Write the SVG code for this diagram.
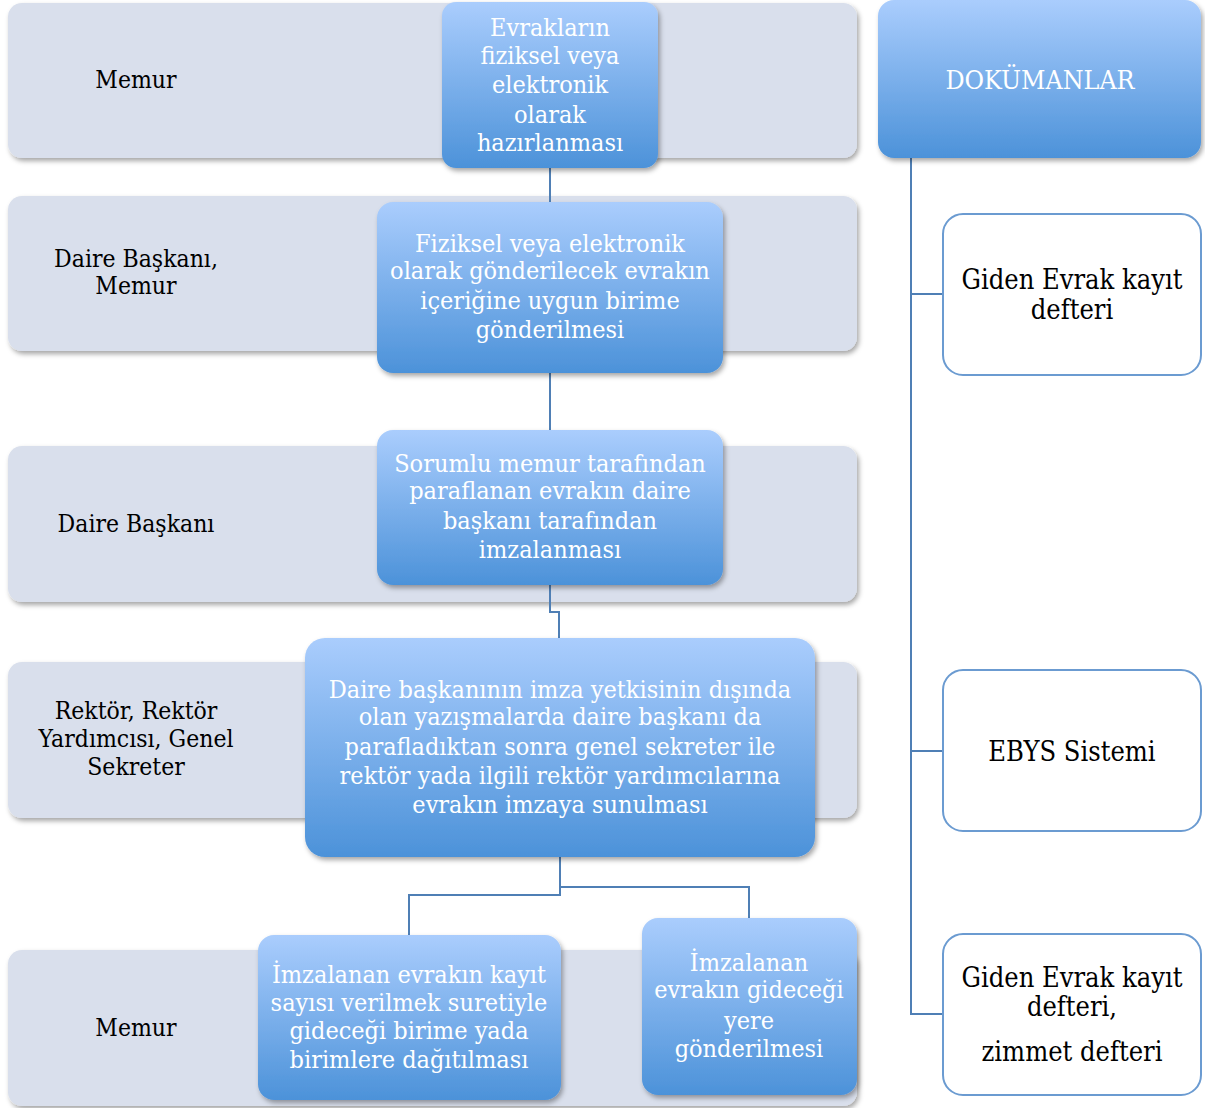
<svg xmlns="http://www.w3.org/2000/svg" width="1205" height="1108" viewBox="0 0 1205 1108">
<defs>
<linearGradient id="blue" x1="0" y1="0" x2="0" y2="1">
<stop offset="0" stop-color="#aacdfd"/>
<stop offset="1" stop-color="#4c92d9"/>
</linearGradient>
<filter id="sh" x="-10%" y="-10%" width="120%" height="130%">
<feDropShadow dx="2" dy="3" stdDeviation="2.5" flood-color="#000" flood-opacity="0.35"/>
</filter>
<style>
.lane{fill:#d9dfec;filter:url(#sh)}
.bx{fill:url(#blue);filter:url(#sh)}
.wb{fill:#fff;stroke:#6b9bd1;stroke-width:2}
.wt{fill:#fff;font-family:"DejaVu Serif Condensed","DejaVu Serif","Liberation Serif",serif;font-size:25px;text-anchor:middle}
.bt{fill:#000;font-family:"DejaVu Serif Condensed","DejaVu Serif","Liberation Serif",serif;font-size:24.5px;text-anchor:middle}
.dt{fill:#000;font-family:"DejaVu Serif Condensed","DejaVu Serif","Liberation Serif",serif;font-size:27px;text-anchor:middle}
.con{fill:none;stroke:#4f7fb5;stroke-width:2}
</style>
</defs>
<g id="lanes">
<g id="lane1"><rect class="lane" x="8" y="3" width="849" height="155" rx="14"/><text class="bt" x="136" y="88">Memur</text></g>
<g id="lane2"><rect class="lane" x="8" y="196" width="849" height="155" rx="14"/><text class="bt" x="136" y="267">Daire Başkanı,</text><text class="bt" x="136" y="294">Memur</text></g>
<g id="lane3"><rect class="lane" x="8" y="446" width="849" height="156" rx="14"/><text class="bt" x="136" y="532">Daire Başkanı</text></g>
<g id="lane4"><rect class="lane" x="8" y="662" width="849" height="156" rx="14"/><text class="bt" x="136" y="719">Rektör, Rektör</text><text class="bt" x="136" y="747">Yardımcısı, Genel</text><text class="bt" x="136" y="775">Sekreter</text></g>
<g id="lane5"><rect class="lane" x="8" y="950" width="849" height="156" rx="14"/><text class="bt" x="136" y="1036">Memur</text></g>
</g>
<g id="connectors">
<path class="con" d="M550 168 V202"/>
<path class="con" d="M550 373 V430"/>
<path class="con" d="M550 585 V612 H559 V638"/>
<path class="con" d="M560 857 V895 H409 V935"/>
<path class="con" d="M560 887 H749 V918"/>
<path class="con" d="M911 158 V1014 H943"/>
<path class="con" d="M911 294 H943"/>
<path class="con" d="M911 751 H943"/>
</g>
<g id="n1"><rect class="bx" x="442" y="2" width="216" height="166" rx="14"/>
<text class="wt" x="550" y="36">Evrakların</text><text class="wt" x="550" y="64">fiziksel veya</text><text class="wt" x="550" y="93">elektronik</text><text class="wt" x="550" y="123">olarak</text><text class="wt" x="550" y="151">hazırlanması</text></g>
<g id="n2"><rect class="bx" x="377" y="202" width="346" height="171" rx="16"/>
<text class="wt" x="550" y="252">Fiziksel veya elektronik</text><text class="wt" x="550" y="279">olarak gönderilecek evrakın</text><text class="wt" x="550" y="309">içeriğine uygun birime</text><text class="wt" x="550" y="338">gönderilmesi</text></g>
<g id="n3"><rect class="bx" x="377" y="430" width="346" height="155" rx="16"/>
<text class="wt" x="550" y="472">Sorumlu memur tarafından</text><text class="wt" x="550" y="499">paraflanan evrakın daire</text><text class="wt" x="550" y="529">başkanı tarafından</text><text class="wt" x="550" y="558">imzalanması</text></g>
<g id="n4"><rect class="bx" x="305" y="638" width="510" height="219" rx="20"/>
<text class="wt" x="560" y="698">Daire başkanının imza yetkisinin dışında</text><text class="wt" x="560" y="725">olan yazışmalarda daire başkanı da</text><text class="wt" x="560" y="755">parafladıktan sonra genel sekreter ile</text><text class="wt" x="560" y="784">rektör yada ilgili rektör yardımcılarına</text><text class="wt" x="560" y="813">evrakın imzaya sunulması</text></g>
<g id="n5"><rect class="bx" x="258" y="935" width="303" height="165" rx="16"/>
<text class="wt" x="409" y="983">İmzalanan evrakın kayıt</text><text class="wt" x="409" y="1011">sayısı verilmek suretiyle</text><text class="wt" x="409" y="1039">gideceği birime yada</text><text class="wt" x="409" y="1068">birimlere dağıtılması</text></g>
<g id="n6"><rect class="bx" x="642" y="918" width="215" height="177" rx="16"/>
<text class="wt" x="749" y="971">İmzalanan</text><text class="wt" x="749" y="998">evrakın gideceği</text><text class="wt" x="749" y="1029">yere</text><text class="wt" x="749" y="1057">gönderilmesi</text></g>
<g id="doc"><rect class="bx" x="878" y="0" width="323" height="158" rx="16"/>
<text class="wt" x="1040" y="89" style="font-size:26.5px">DOKÜMANLAR</text></g>
<g id="d1"><rect class="wb" x="943" y="214" width="258" height="161" rx="20"/>
<text class="dt" x="1072" y="289">Giden Evrak kayıt</text><text class="dt" x="1072" y="319">defteri</text></g>
<g id="d2"><rect class="wb" x="943" y="670" width="258" height="161" rx="20"/>
<text class="dt" x="1072" y="761">EBYS Sistemi</text></g>
<g id="d3"><rect class="wb" x="943" y="934" width="258" height="161" rx="20"/>
<text class="dt" x="1072" y="987">Giden Evrak kayıt</text><text class="dt" x="1072" y="1016">defteri,</text><text class="dt" x="1072" y="1061">zimmet defteri</text></g>
</svg>
